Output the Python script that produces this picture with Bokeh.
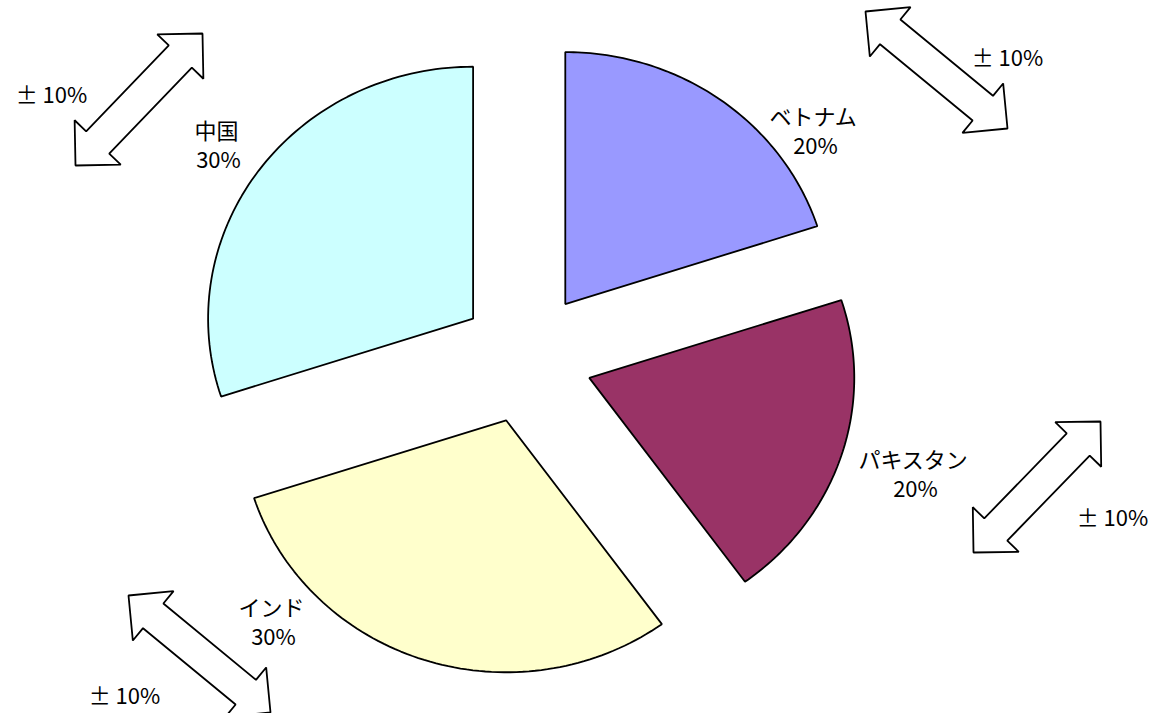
import math
from bokeh.plotting import figure
from bokeh.models import Range1d
from bokeh.core.properties import value
from bokeh.embed import file_html
from bokeh.resources import INLINE

# ---- data ----
categories = ["ベトナム", "パキスタン", "インド", "中国"]
shares = [20, 20, 30, 30]
colors = ["#9999FF", "#993366", "#FFFFCC", "#CCFFFF"]
range_label = "± 10%"

# ---- layout (picture pixel coordinates) ----
W, H = 1159, 713
cx, cy = 526.0, 357.0      # pie centre
rx, ry = 265.0, 252.0      # pie radii
explode = 66.0
label_pos = [(813, 114), (913, 457), (271, 605), (216, 128)]
line_gap = 29
arrows = [((75, 165), (202, 33)), ((865, 11), (1007, 128)),
          ((973, 552), (1100, 421)), ((128, 595), (270, 712))]
range_label_pos = [(51, 92), (1007, 55), (1112, 515), (124, 693)]
FONT = "Noto Sans CJK JP"
FS = "22px"

p = figure(width=W, height=H, x_range=Range1d(0, W), y_range=Range1d(H, 0),
           output_backend="svg", toolbar_location=None, min_border=0)
p.axis.visible = False
p.grid.visible = False
p.outline_line_color = None
p.background_fill_color = "white"
p.border_fill_color = "white"

# ---- wedges ----
total = float(sum(shares))
xs, ys = [], []
start = 0.0
for s in shares:
    a0 = start
    a1 = start + 2 * math.pi * s / total
    mid = (a0 + a1) / 2
    ox = cx + explode * math.sin(mid)
    oy = cy - explode * math.cos(mid)
    px, py = [ox], [oy]
    n = 80
    for i in range(n + 1):
        t = a0 + (a1 - a0) * i / n
        px.append(ox + rx * math.sin(t))
        py.append(oy - ry * math.cos(t))
    xs.append(px)
    ys.append(py)
    start = a1
p.patches(xs, ys, fill_color=colors, line_color="black", line_width=1.8)

# ---- double arrows ----
def arrow_poly(A, B, w=32.0, hw=64.0, hl=32.0):
    ax, ay = A
    bx, by = B
    L = math.hypot(bx - ax, by - ay)
    ux, uy = (bx - ax) / L, (by - ay) / L
    nx, ny = -uy, ux
    pts = [
        (bx, by),
        (bx - hl * ux + hw / 2 * nx, by - hl * uy + hw / 2 * ny),
        (bx - hl * ux + w / 2 * nx, by - hl * uy + w / 2 * ny),
        (ax + hl * ux + w / 2 * nx, ay + hl * uy + w / 2 * ny),
        (ax + hl * ux + hw / 2 * nx, ay + hl * uy + hw / 2 * ny),
        (ax, ay),
        (ax + hl * ux - hw / 2 * nx, ay + hl * uy - hw / 2 * ny),
        (ax + hl * ux - w / 2 * nx, ay + hl * uy - w / 2 * ny),
        (bx - hl * ux - w / 2 * nx, by - hl * uy - w / 2 * ny),
        (bx - hl * ux - hw / 2 * nx, by - hl * uy - hw / 2 * ny),
    ]
    return [q[0] for q in pts], [q[1] for q in pts]

axs, ays = [], []
for A, B in arrows:
    a, b = arrow_poly(A, B)
    axs.append(a)
    ays.append(b)
p.patches(axs, ays, fill_color="white", line_color="black", line_width=1.8)

# ---- labels ----
p.text(x=[q[0] for q in label_pos], y=[q[1] for q in label_pos], text=categories,
       text_font=value(FONT), text_font_size=FS, text_color="black",
       text_align="center", text_baseline="middle")
p.text(x=[q[0] + 2 for q in label_pos], y=[q[1] + line_gap for q in label_pos],
       text=[f"{s}%" for s in shares],
       text_font=value(FONT), text_font_size=FS, text_color="black",
       text_align="center", text_baseline="middle")
p.text(x=[q[0] for q in range_label_pos], y=[q[1] for q in range_label_pos],
       text=[range_label] * len(range_label_pos),
       text_font=value(FONT), text_font_size=FS, text_color="black",
       text_align="center", text_baseline="middle")

open("out.html", "w").write(file_html(p, INLINE))
